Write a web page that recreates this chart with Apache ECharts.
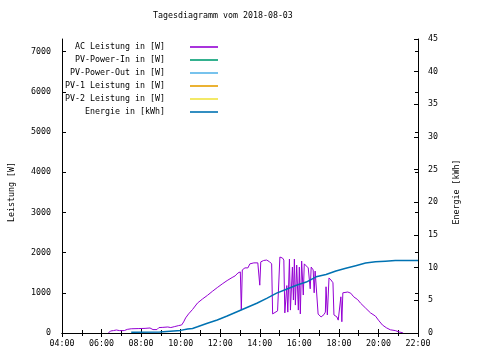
<!DOCTYPE html>
<html>
<head>
<meta charset="utf-8">
<script src="https://cdn.jsdelivr.net/npm/echarts@6/dist/echarts.min.js"></script>
<style>html,body{margin:0;padding:0;background:#fff;}#c{width:480px;height:360px;}</style>
</head>
<body>
<div id="c"></div>
<script>
const titleText = 'Tagesdiagramm vom 2018-08-03';
const seriesNames = ['AC Leistung in [W]', 'PV-Power-In in [W]', 'PV-Power-Out in [W]', 'PV-1 Leistung in [W]', 'PV-2 Leistung in [W]', 'Energie in [kWh]'];
const seriesColors = ['#9400d3', '#009e73', '#56b4e9', '#e69f00', '#f0e442', '#0072b2'];
const xTickLabels = ['04:00','06:00','08:00','10:00','12:00','14:00','16:00','18:00','20:00','22:00'];

const acTimes = ['06:21','06:27','06:36','06:45','06:54','07:00','07:09','07:18','07:30','07:51','08:12','08:27','08:36','08:42','08:48','08:54','09:06','09:21','09:30','09:42','09:54','10:03','10:09','10:15','10:24','10:36','10:51','11:06','11:21','11:36','11:51','12:06','12:21','12:36','12:45','12:54','13:01','13:04','13:07','13:15','13:24','13:30','13:42','13:54','13:57','14:00','14:03','14:12','14:21','14:30','14:36','14:39','14:45','14:54','14:58','15:01','15:09','15:13','15:16','15:21','15:22','15:25','15:30','15:33','15:36','15:39','15:42','15:45','15:48','15:52','15:57','16:00','16:03','16:07','16:12','16:15','16:21','16:27','16:30','16:33','16:36','16:42','16:45','16:48','16:52','16:57','17:06','17:15','17:19','17:21','17:25','17:30','17:36','17:42','17:45','17:54','17:58','18:04','18:06','18:09','18:12','18:16','18:27','18:36','18:45','18:57','19:06','19:21','19:36','19:51','20:00','20:12','20:24','20:36','20:51','21:03','21:12','21:15'];
const acWatts = [0,50,60,75,60,90,60,90,105,110,115,125,85,125,85,135,140,150,135,160,185,200,275,375,475,585,745,845,935,1035,1130,1220,1305,1380,1420,1495,1520,570,1570,1620,1620,1720,1745,1745,1770,1190,1770,1805,1815,1770,1720,475,520,550,570,1890,1865,1815,500,500,1180,520,1840,570,570,1640,820,1840,695,1690,570,1640,475,1790,945,1720,1690,1620,1590,1100,1640,1570,1000,1540,1520,470,400,460,520,1150,450,1370,1320,1250,450,400,320,310,900,280,1000,1020,1020,990,900,830,740,620,500,420,320,200,130,80,60,25,10,0];

const energyTimes = ['07:30','08:57','09:00','10:00','10:21','10:36','10:51','11:21','11:51','12:21','12:51','13:21','13:51','14:21','14:51','15:21','15:51','16:21','16:51','17:21','17:51','18:21','18:51','19:21','19:51','20:21','20:51','22:00'];
const energyKWh = [0.1,0.15,0.3,0.4,0.6,0.7,0.95,1.5,2.0,2.6,3.25,3.9,4.55,5.3,6.1,6.7,7.3,7.8,8.6,8.95,9.5,9.9,10.3,10.7,10.9,11.0,11.1,11.1];

const pvInW = [];
const pvOutW = [];
const pv1W = [];
const pv2W = [];

function toHours(s){ const p = s.split(':'); return +p[0] + (+p[1])/60; }
function pairs(times, vals){ return times.map((t,i)=>[toHours(t), vals[i]]); }

const FONT = 'DejaVu Sans Mono';
const FS = 8.3;
const black = '#000';

const chart = echarts.init(document.getElementById('c'), null, {renderer:'canvas'});

function xAx(pos, labels){
  return {
    type:'value', position:pos, min:4, max:22, interval:2,
    axisLine:{show:true, lineStyle:{color:black, width:1}},
    axisTick:{show:true, inside:true, length:4, lineStyle:{color:black}},
    minorTick:{show:true, splitNumber:2, length:3, lineStyle:{color:black}},
    splitLine:{show:false},
    axisLabel:{show:labels, margin:7, fontFamily:FONT, fontSize:FS, color:black,
      formatter:function(v){ const i = Math.round((v-4)/2); return xTickLabels[i] || ''; }}
  };
}

const option = {
  animation:false,
  backgroundColor:'#fff',
  title:{text:titleText, left:153, top:12, padding:0,
    textStyle:{fontFamily:FONT, fontSize:FS, fontWeight:'normal', color:black}},
  legend:{
    orient:'vertical', align:'right', right:262, top:43, padding:0,
    itemWidth:28, itemHeight:8, itemGap:5,
    icon:'path://M0,0H28V1.6H0Z',
    itemStyle:{borderWidth:0},
    data:seriesNames,
    formatter:function(n){ return n + '    '; },
    textStyle:{fontFamily:FONT, fontSize:FS, color:black}
  },
  grid:{left:58, right:62, top:39, bottom:27, containLabel:false},
  xAxis:[xAx('bottom', true), xAx('top', false)],
  yAxis:[
    {type:'value', position:'left', min:0, max:7315, interval:1000,
     name:'Leistung [W]', nameLocation:'middle', nameGap:46,
     nameTextStyle:{fontFamily:FONT, fontSize:FS, color:black, padding:[0,12,0,0]},
     axisLine:{show:true, lineStyle:{color:black}},
     axisTick:{show:true, inside:true, length:4, lineStyle:{color:black}},
     splitLine:{show:false},
     axisLabel:{margin:11, showMaxLabel:false, fontFamily:FONT, fontSize:FS, color:black,
       formatter:function(v){ return String(v); }}},
    {type:'value', position:'right', min:0, max:45, interval:5,
     name:'Energie [kWh]', nameLocation:'middle', nameGap:35,
     nameTextStyle:{fontFamily:FONT, fontSize:FS, color:black, padding:[0,12,0,0]},
     axisLine:{show:true, lineStyle:{color:black}},
     axisTick:{show:true, inside:true, length:4, lineStyle:{color:black}},
     splitLine:{show:false},
     axisLabel:{margin:10, fontFamily:FONT, fontSize:FS, color:black,
       formatter:function(v){ return String(v); }}},
    {type:'value', position:'right', min:0, max:7315, interval:1000,
     axisLine:{show:false},
     axisTick:{show:true, inside:true, length:3, lineStyle:{color:black}},
     splitLine:{show:false},
     axisLabel:{show:false}}
  ],
  series:[
    {name:seriesNames[0], type:'line', yAxisIndex:0, data:pairs(acTimes, acWatts), symbol:'none',
     lineStyle:{color:seriesColors[0], width:1}, itemStyle:{color:seriesColors[0]}, z:3},
    {name:seriesNames[1], type:'line', yAxisIndex:0, data:pvInW, symbol:'none',
     lineStyle:{color:seriesColors[1], width:1}, itemStyle:{color:seriesColors[1]}},
    {name:seriesNames[2], type:'line', yAxisIndex:0, data:pvOutW, symbol:'none',
     lineStyle:{color:seriesColors[2], width:1}, itemStyle:{color:seriesColors[2]}},
    {name:seriesNames[3], type:'line', yAxisIndex:0, data:pv1W, symbol:'none',
     lineStyle:{color:seriesColors[3], width:1}, itemStyle:{color:seriesColors[3]}},
    {name:seriesNames[4], type:'line', yAxisIndex:0, data:pv2W, symbol:'none',
     lineStyle:{color:seriesColors[4], width:1}, itemStyle:{color:seriesColors[4]}},
    {name:seriesNames[5], type:'line', yAxisIndex:1, data:pairs(energyTimes, energyKWh), symbol:'none',
     lineStyle:{color:seriesColors[5], width:1.5}, itemStyle:{color:seriesColors[5]}, z:4}
  ]
};
chart.setOption(option);
</script>
</body>
</html>
